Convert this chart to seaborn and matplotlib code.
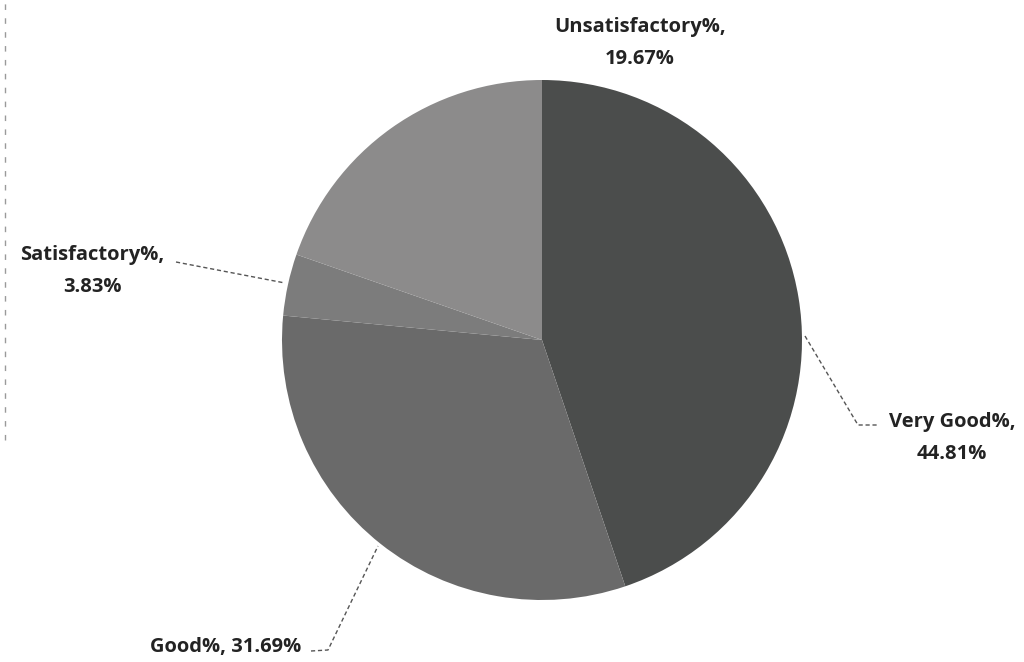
import matplotlib
matplotlib.use("Agg")
import matplotlib.pyplot as plt
from matplotlib.lines import Line2D
import seaborn as sns

# data, in Excel's order (clockwise from 12 o'clock)
categories = ["Very Good%", "Good%", "Satisfactory%", "Unsatisfactory%"]
shares = [44.81, 31.69, 3.83, 19.67]
slice_colors = ["#4b4d4c", "#6a6a6a", "#7c7c7c", "#8c8b8b"]

sns.set_theme(style="white")
plt.rcParams['font.family'] = ['Open Sans', 'DejaVu Sans']

W, H = 1024, 662
fig = plt.figure(figsize=(W / 100, H / 100), dpi=100)
fig.patch.set_facecolor("white")

# faint scanned chart-area border on the left edge
fig.add_artist(Line2D([5 / W, 5 / W], [1 - 440 / H, 1.0], color="#9a9a9a", lw=1.0,
                      linestyle=(0, (4, 6))))

# pie centred at about (542, 340) px with radius ~260 px
cx, cy, r = 542, 340, 260
ax = fig.add_axes([(cx - r) / W, (H - cy - r) / H, 2 * r / W, 2 * r / H])
wedges, _ = ax.pie(shares, colors=slice_colors, startangle=90, counterclock=False,
                   wedgeprops=dict(linewidth=0))
ax.set_xlim(-1, 1)
ax.set_ylim(-1, 1)
ax.set_aspect("equal")
ax.axis("off")


def px(x, y):
    # pixel position -> pie data coordinates
    return (x - cx) / r, (cy - y) / r


text_kw = dict(fontsize=14.5, fontweight="bold", color="#232323", ha="center", va="center",
               linespacing=1.75, clip_on=False)
line_kw = dict(color="#555555", lw=1.0, linestyle=(0, (3, 2)), clip_on=False)

labels = [f"{c},\n{v:.2f}%" for c, v in zip(categories, shares)]

# Very Good
ax.text(*px(952, 438), labels[0], **text_kw)
ax.plot(*zip(px(805, 336), px(858, 425), px(878, 425)), **line_kw)

# Good (single line)
ax.text(*px(226, 647), f"{categories[1]}, {shares[1]:.2f}%", **text_kw)
ax.plot(*zip(px(311, 651), px(328, 650), px(378, 546)), **line_kw)

# Satisfactory
ax.text(*px(92, 271), labels[2], **text_kw)
ax.plot(*zip(px(176, 262), px(285, 283)), **line_kw)

# Unsatisfactory (no leader)
ax.text(*px(640, 43), labels[3], **text_kw)

fig.savefig("out.png", dpi=100, facecolor="white")
